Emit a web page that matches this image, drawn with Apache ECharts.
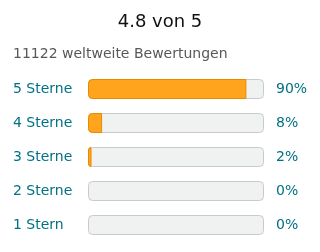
<!DOCTYPE html>
<html><head><meta charset="utf-8">
<script src="https://cdn.jsdelivr.net/npm/echarts@6/dist/echarts.min.js"></script>
<style>html,body{margin:0;padding:0;background:#fff}#c{width:320px;height:252px}</style>
</head><body><div id="c"></div>
<script>
const titleText = "4.8 von 5";
const subtitleText = "11122 weltweite Bewertungen";
const categories = ["5 Sterne", "4 Sterne", "3 Sterne", "2 Sterne", "1 Stern"];
const percents = [90, 8, 2, 0, 0];
const fullValues = [100, 100, 100, 100, 100];

const chart = echarts.init(document.getElementById('c'), null, {renderer: 'canvas'});
const font = 'DejaVu Sans';
chart.setOption({
  animation: false,
  backgroundColor: '#ffffff',
  title: [
    {text: titleText, left: 'center', top: 13, padding: 0, textStyle: {fontFamily: font, fontSize: 18, fontWeight: 'normal', color: '#111111'}},
    {text: subtitleText, left: 13, top: 47, padding: 0, textStyle: {fontFamily: font, fontSize: 14, fontWeight: 'normal', color: '#565959'}}
  ],
  grid: {left: 88, width: 176, top: 72, height: 170},
  xAxis: {type: 'value', min: 0, max: 100, show: false},
  yAxis: {
    type: 'category', data: categories, inverse: true,
    axisLine: {show: false}, axisTick: {show: false}, splitLine: {show: false},
    axisLabel: {align: 'left', margin: 75, fontFamily: font, fontSize: 14, color: '#007185', padding: [2, 0, 0, 0]}
  },
  series: [
    {
      type: 'bar', data: fullValues, barWidth: 20, silent: true, z: 1,
      itemStyle: {color: '#f0f2f2', borderColor: '#c7cbcb', borderWidth: 1, borderRadius: 4},
      label: {show: true, position: 'right', distance: 12, fontFamily: font, fontSize: 14, color: '#007185',
        padding: [2, 0, 0, 0], formatter: p => percents[p.dataIndex] + '%'}
    },
    {
      type: 'bar', data: percents.map(v => v > 0 ? v : '-'), barWidth: 20, barGap: '-100%', z: 2,
      itemStyle: {color: '#ffa41c', borderColor: '#e68a00', borderWidth: 1, borderRadius: [4, 0, 0, 4]}
    }
  ]
});
</script></body></html>
